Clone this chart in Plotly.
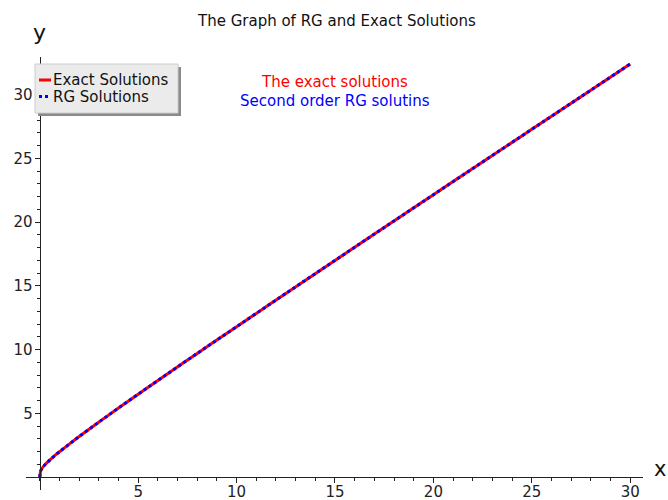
import plotly.graph_objects as go

# ---- data ----
x_vals = [0, 0.05, 0.1, 0.2, 0.4, 0.6, 0.8, 1, 1.5, 2, 3, 4, 5, 6, 8, 10,
          12.5, 15, 17.5, 20, 22.5, 25, 27.5, 30]
y_exact = [0, 0.52, 0.66, 0.87, 1.19, 1.48, 1.75, 2.0, 2.6, 3.19, 4.32, 5.43,
           6.51, 7.58, 9.71, 11.8, 14.41, 17.0, 19.58, 22.15, 24.72, 27.28,
           29.84, 32.4]
y_rg = list(y_exact)

x_ticks = [5, 10, 15, 20, 25, 30]
y_ticks = [5, 10, 15, 20, 25, 30]
x_minor = list(range(0, 31))
y_minor = list(range(0, 33))

title_text = "The Graph of RG and Exact Solutions"
legend_labels = ["Exact Solutions", "RG Solutions"]
note_exact = "The exact solutions"
note_rg = "Second order RG solutins"

# ---- layout geometry ----
W, H = 668, 500
L, R, T, B = 26, 25, 57, 10
PW, PH = W - L - R, H - T - B
XR = [-0.7, 30.65]
YR = [-1.0, 32.95]


def px(xp):
    return (xp - L) / PW


def py(yp):
    return (H - B - yp) / PH


FONT = "DejaVu Sans"
FS = 15

fig = go.Figure()
fig.add_trace(go.Scatter(x=x_vals, y=y_exact, mode="lines", name=legend_labels[0],
                         line=dict(color="red", width=3, shape="spline"),
                         showlegend=False))
fig.add_trace(go.Scatter(x=x_vals, y=y_rg, mode="lines", name=legend_labels[1],
                         line=dict(color="blue", width=3, dash="3px,3px", shape="spline"),
                         showlegend=False))

axis_common = dict(showgrid=False, zeroline=False, showline=True, linecolor="#222",
                   linewidth=1.2, ticks="outside", ticklen=5, tickwidth=1,
                   tickcolor="#222", tickfont=dict(family=FONT, size=FS, color="#222"),
                   tickmode="array", anchor="free")

fig.update_xaxes(range=XR, tickvals=x_ticks, ticktext=[str(v) for v in x_ticks],
                 position=(0 - YR[0]) / (YR[1] - YR[0]), ticklabelstandoff=-4,
                 minor=dict(tickmode="array", tickvals=x_minor, ticks="outside",
                            ticklen=3, tickcolor="#222", showgrid=False),
                 **axis_common)
fig.update_yaxes(range=YR, tickvals=y_ticks, ticktext=[str(v) for v in y_ticks],
                 position=(0 - XR[0]) / (XR[1] - XR[0]), ticklabelstandoff=-1,
                 minor=dict(tickmode="array", tickvals=y_minor, ticks="outside",
                            ticklen=3, tickcolor="#222", showgrid=False),
                 **axis_common)

shapes = []
# legend shadow + box
shapes.append(dict(type="rect", xref="paper", yref="paper",
                   x0=px(38), x1=px(181), y0=py(116), y1=py(67),
                   fillcolor="#8a8a8a", line=dict(width=0), layer="above"))
shapes.append(dict(type="rect", xref="paper", yref="paper",
                   x0=px(35), x1=px(178), y0=py(113), y1=py(64),
                   fillcolor="#ebebeb", line=dict(color="#cccccc", width=1), layer="above"))
shapes.append(dict(type="line", xref="paper", yref="paper",
                   x0=px(39), x1=px(51), y0=py(80), y1=py(80),
                   line=dict(color="red", width=3), layer="above"))
shapes.append(dict(type="line", xref="paper", yref="paper",
                   x0=px(39), x1=px(51), y0=py(96.5), y1=py(96.5),
                   line=dict(color="blue", width=3, dash="3px,3px"), layer="above"))

annotations = [
    dict(text=title_text, xref="paper", yref="paper", x=px(336), y=py(21),
         showarrow=False, font=dict(family=FONT, size=FS, color="#111"),
         xanchor="center", yanchor="middle"),
    dict(text=note_exact, xref="x", yref="y", x=15, y=31.0, showarrow=False,
         font=dict(family=FONT, size=FS, color="red"), xanchor="center", yanchor="middle"),
    dict(text=note_rg, xref="x", yref="y", x=15, y=29.5, showarrow=False,
         font=dict(family=FONT, size=FS, color="blue"), xanchor="center", yanchor="middle"),
    dict(text=legend_labels[0], xref="paper", yref="paper", x=px(51), y=py(80),
         showarrow=False, font=dict(family=FONT, size=FS, color="#111"),
         xanchor="left", yanchor="middle"),
    dict(text=legend_labels[1], xref="paper", yref="paper", x=px(51), y=py(96.5),
         showarrow=False, font=dict(family=FONT, size=FS, color="#111"),
         xanchor="left", yanchor="middle"),
    dict(text="y", xref="paper", yref="paper", x=px(39), y=py(33),
         showarrow=False, font=dict(family=FONT, size=22, color="#111"),
         xanchor="center", yanchor="middle"),
    dict(text="x", xref="paper", yref="paper", x=px(660), y=py(469),
         showarrow=False, font=dict(family=FONT, size=21, color="#111"),
         xanchor="center", yanchor="middle"),
]

fig.update_layout(width=W, height=H, margin=dict(l=L, r=R, t=T, b=B, autoexpand=False),
                  paper_bgcolor="white", plot_bgcolor="white",
                  shapes=shapes, annotations=annotations, showlegend=False)

fig.write_html("out.html", config={"displayModeBar": False},
               post_script="document.body.style.margin='0';document.body.style.padding='0';")
